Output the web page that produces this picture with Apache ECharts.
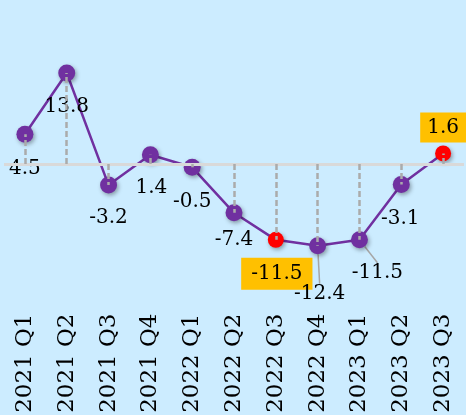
<!DOCTYPE html>
<html><head><meta charset="utf-8">
<script src="https://cdn.jsdelivr.net/npm/echarts@6/dist/echarts.min.js"></script>
<style>html,body{margin:0;padding:0;background:#CCECFF;}#c{width:466px;height:415px;}</style>
</head><body><div id="c"></div>
<script>
const categories = ['2021 Q1','2021 Q2','2021 Q3','2021 Q4','2022 Q1','2022 Q2','2022 Q3','2022 Q4','2023 Q1','2023 Q2','2023 Q3'];
const values = [4.5, 13.8, -3.2, 1.4, -0.5, -7.4, -11.5, -12.4, -11.5, -3.1, 1.6];
const highlighted = ['2022 Q3', '2023 Q3'];

const FONT = 'DejaVu Serif';
// label placement (pixel offsets from point centre)
const labelShift = [[0,34],[0,34],[0,33],[1,33],[0,34],[0,27],[1,34],[2,48],[18,33],[-1,34],[0,-26]];
const leader = [7, 8];

const mainData = values.map((v, i) => {
  const hi = highlighted.includes(categories[i]);
  const item = { value: v };
  if (hi) {
    item.symbolSize = 16;
    item.itemStyle = { color: '#FF0000' };
    item.label = {
      backgroundColor: '#FFC000',
      padding: i === 10 ? [5, 7, 5, 7] : [6, 10, 6, 10]
    };
  }
  if (leader.includes(i)) {
    item.labelLine = { show: true, lineStyle: { color: '#A6A6A6', width: 1.5 } };
  }
  return item;
});

const dropLines = values.map((v, i) => [
  { coord: [categories[i], 0] },
  { coord: [categories[i], v] }
]);

const chart = echarts.init(document.getElementById('c'), null, { renderer: 'canvas' });
chart.setOption({
  backgroundColor: '#CCECFF',
  animation: false,
  grid: { left: 4, right: 2, top: 58.5, bottom: 145.5, containLabel: false, outerBoundsMode: 'none' },
  xAxis: {
    type: 'category',
    data: categories,
    boundaryGap: true,
    axisLine: { show: false },
    axisTick: { show: false },
    splitLine: { show: false },
    axisLabel: { rotate: 90, margin: 44, fontSize: 23, fontFamily: FONT, color: '#000' }
  },
  yAxis: { type: 'value', min: -16, max: 16, interval: 4, show: false },
  series: [
    {
      type: 'line', data: values, z: 1, silent: true,
      showSymbol: false, lineStyle: { width: 0, opacity: 0 },
      markLine: {
        silent: true, symbol: 'none', label: { show: false },
        lineStyle: { color: '#D9D9D9', width: 3, type: 'solid' },
        data: [{ yAxis: 0 }]
      }
    },
    {
      type: 'line', data: mainData, z: 2,
      symbol: 'circle', symbolSize: 17,
      lineStyle: { color: '#7030A0', width: 2.5 },
      itemStyle: { color: '#7030A0', shadowBlur: 4, shadowColor: 'rgba(0,0,0,0.35)', shadowOffsetX: 1.5, shadowOffsetY: 2 },
      label: { show: true, position: 'inside', fontSize: 20, fontFamily: FONT, color: '#000' },
      labelLayout: function (p) {
        const s = labelShift[p.dataIndex];
        return { dx: s[0], dy: s[1] };
      }
    },
    {
      type: 'line', data: values, z: 3, silent: true,
      showSymbol: false, lineStyle: { width: 0, opacity: 0 },
      markLine: {
        silent: true, symbol: 'none', label: { show: false },
        lineStyle: { color: '#ABABAB', width: 2.5, type: [6, 3] },
        data: dropLines
      }
    }
  ]
});
</script></body></html>
